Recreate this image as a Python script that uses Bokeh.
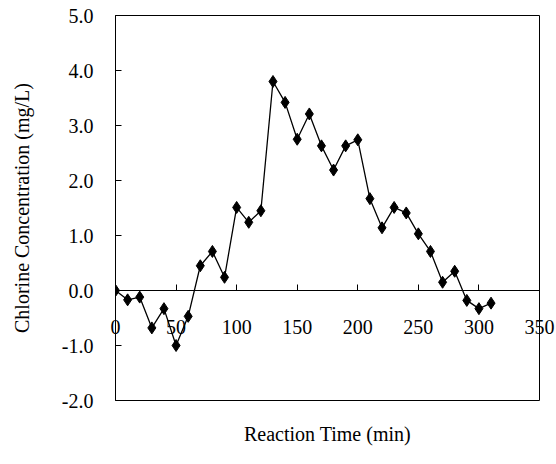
from bokeh.plotting import figure
from bokeh.models import Range1d, FixedTicker, NumeralTickFormatter, Title, LinearAxis
from bokeh.embed import file_html
from bokeh.resources import INLINE

time_min = [0, 10, 20, 30, 40, 50, 60, 70, 80, 90, 100, 110, 120, 130, 140, 150,
            160, 170, 180, 190, 200, 210, 220, 230, 240, 250, 260, 270, 280, 290, 300, 310]
chlorine = [0.0, -0.17, -0.12, -0.68, -0.33, -1.0, -0.47, 0.45, 0.71, 0.24, 1.51, 1.24, 1.45, 3.80, 3.42, 2.75,
            3.21, 2.63, 2.19, 2.63, 2.74, 1.67, 1.14, 1.51, 1.41, 1.03, 0.71, 0.15, 0.35, -0.18, -0.33, -0.23]
x_ticks = [0, 50, 100, 150, 200, 250, 300, 350]
y_ticks = [-2, -1, 0, 1, 2, 3, 4, 5]

FONT = "Liberation Serif"
FS = "20px"

p = figure(width=556, height=464, output_backend="svg", toolbar_location=None,
           x_range=Range1d(0, 350), y_range=Range1d(-2, 5),
           min_border_left=115, min_border_right=17, min_border_top=15, min_border_bottom=64)
p.xgrid.visible = False
p.ygrid.visible = False
p.outline_line_color = "black"
p.outline_line_width = 1
p.background_fill_color = "white"
p.border_fill_color = "white"

p.line(time_min, chlorine, line_color="black", line_width=1.3)
p.scatter(time_min, chlorine, marker="diamond", size=12, fill_color="black", line_color="black")

# axis line and ticks at y = 0
xa = p.xaxis[0]
xa.fixed_location = 0
xa.ticker = FixedTicker(ticks=x_ticks)
xa.major_tick_in = 6
xa.major_tick_out = 0
xa.minor_tick_line_color = None
xa.axis_line_color = "black"
xa.major_label_text_color = None

# tick labels (drawn from a second axis so they are not clipped at the frame edges)
xl = LinearAxis(ticker=FixedTicker(ticks=x_ticks), axis_line_color=None,
                major_tick_line_color=None, minor_tick_line_color=None,
                major_label_standoff=-87, major_label_text_font=FONT,
                major_label_text_font_size=FS, major_label_text_color="black")
p.add_layout(xl, "below")

ya = p.yaxis[0]
ya.ticker = FixedTicker(ticks=y_ticks)
ya.formatter = NumeralTickFormatter(format="0.0")
ya.major_tick_in = 6
ya.major_tick_out = 0
ya.minor_tick_line_color = None
ya.axis_line_color = "black"
ya.major_label_text_font = FONT
ya.major_label_text_font_size = FS
ya.major_label_text_color = "black"
ya.major_label_standoff = 22
ya.axis_label = "Chlorine Concentration (mg/L)"
ya.axis_label_text_font = FONT
ya.axis_label_text_font_size = FS
ya.axis_label_text_font_style = "normal"
ya.axis_label_text_color = "black"
ya.axis_label_standoff = 26

t = Title(text="Reaction Time (min)", align="center", text_font=FONT, offset=-35,
          text_font_size=FS, text_font_style="normal", text_color="black", standoff=40)
p.add_layout(t, "below")

open("out.html", "w").write(file_html(p, INLINE))
